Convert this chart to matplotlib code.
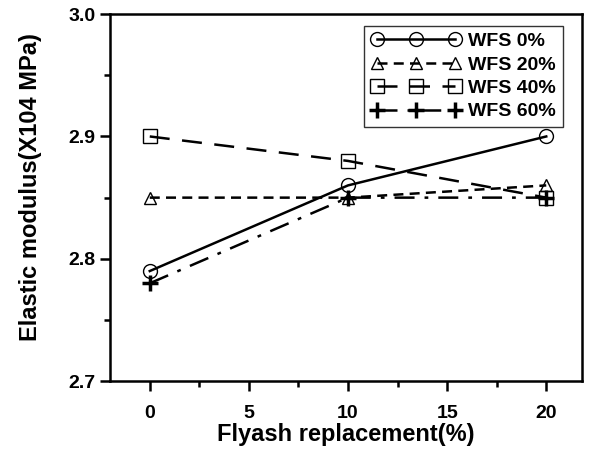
import numpy as np
import matplotlib
matplotlib.use('Agg')
import matplotlib.pyplot as plt
from matplotlib.ticker import MultipleLocator

plt.rcParams['font.family'] = ['Liberation Sans', 'DejaVu Sans']
plt.rcParams['font.weight'] = 'bold'

# Flyash replacement (%)
flyash = [0, 10, 20]

# elastic modulus (x10^4 MPa) for each waste foundry sand level
wfs_0 = [2.79, 2.86, 2.90]
wfs_20 = [2.85, 2.85, 2.86]
wfs_40 = [2.90, 2.88, 2.85]
wfs_60 = [2.78, 2.85, 2.85]

labels = ['WFS 0%', 'WFS 20%', 'WFS 40%', 'WFS 60%']

fig = plt.figure(figsize=(5.92, 4.70), dpi=100)
ax = fig.add_axes([0.186, 0.189, 0.797, 0.781])

ax.plot(flyash, wfs_0, color='black', lw=1.8, ls='-', marker='o', ms=10,
        mfc='none', mec='black', mew=1.0, label=labels[0])
ax.plot(flyash, wfs_20, color='black', lw=1.8, ls=(0, (4, 2.5)), marker='^', ms=9,
        mfc='none', mec='black', mew=1.0, label=labels[1])
ax.plot(flyash, wfs_40, color='black', lw=1.8, ls=(0, (8, 5)), marker='s', ms=10,
        mfc='none', mec='black', mew=1.0, label=labels[2])
ax.plot(flyash, wfs_60, color='black', lw=1.8, ls=(0, (8, 4, 1.5, 4)), marker='+', ms=12,
        mfc='none', mec='black', mew=2.5, label=labels[3])

ax.set_xlim(-2, 21.8)
ax.set_ylim(2.7, 3.0)
ax.xaxis.set_major_locator(MultipleLocator(5))
ax.xaxis.set_minor_locator(MultipleLocator(2.5))
ax.yaxis.set_minor_locator(MultipleLocator(0.05))
ax.set_yticks([2.7, 2.8, 2.9, 3.0])
ax.set_yticklabels(['2.7', '2.8', '2.9', '3.0'])

ax.tick_params(which='major', direction='out', length=7, width=1.8, labelsize=14)
ax.tick_params(which='minor', direction='out', length=4, width=1.8)
ax.tick_params(axis='x', pad=10)
for s in ax.spines.values():
    s.set_linewidth(1.8)

ax.set_xlabel('Flyash replacement(%)', fontsize=17, fontweight='bold', labelpad=1)
ax.set_ylabel('Elastic modulus(X104 MPa)', fontsize=17, fontweight='bold')
ax.yaxis.set_label_coords(-0.145, 0.53)

leg = ax.legend(loc='upper right', numpoints=3, fontsize=14, frameon=True, fancybox=False,
                handlelength=4.6, handletextpad=0.4, borderpad=0.35, labelspacing=0.3,
                bbox_to_anchor=(0.98, 0.995))
leg.get_frame().set_edgecolor('black')
leg.get_frame().set_linewidth(1.0)

fig.savefig('out.png', dpi=100)
